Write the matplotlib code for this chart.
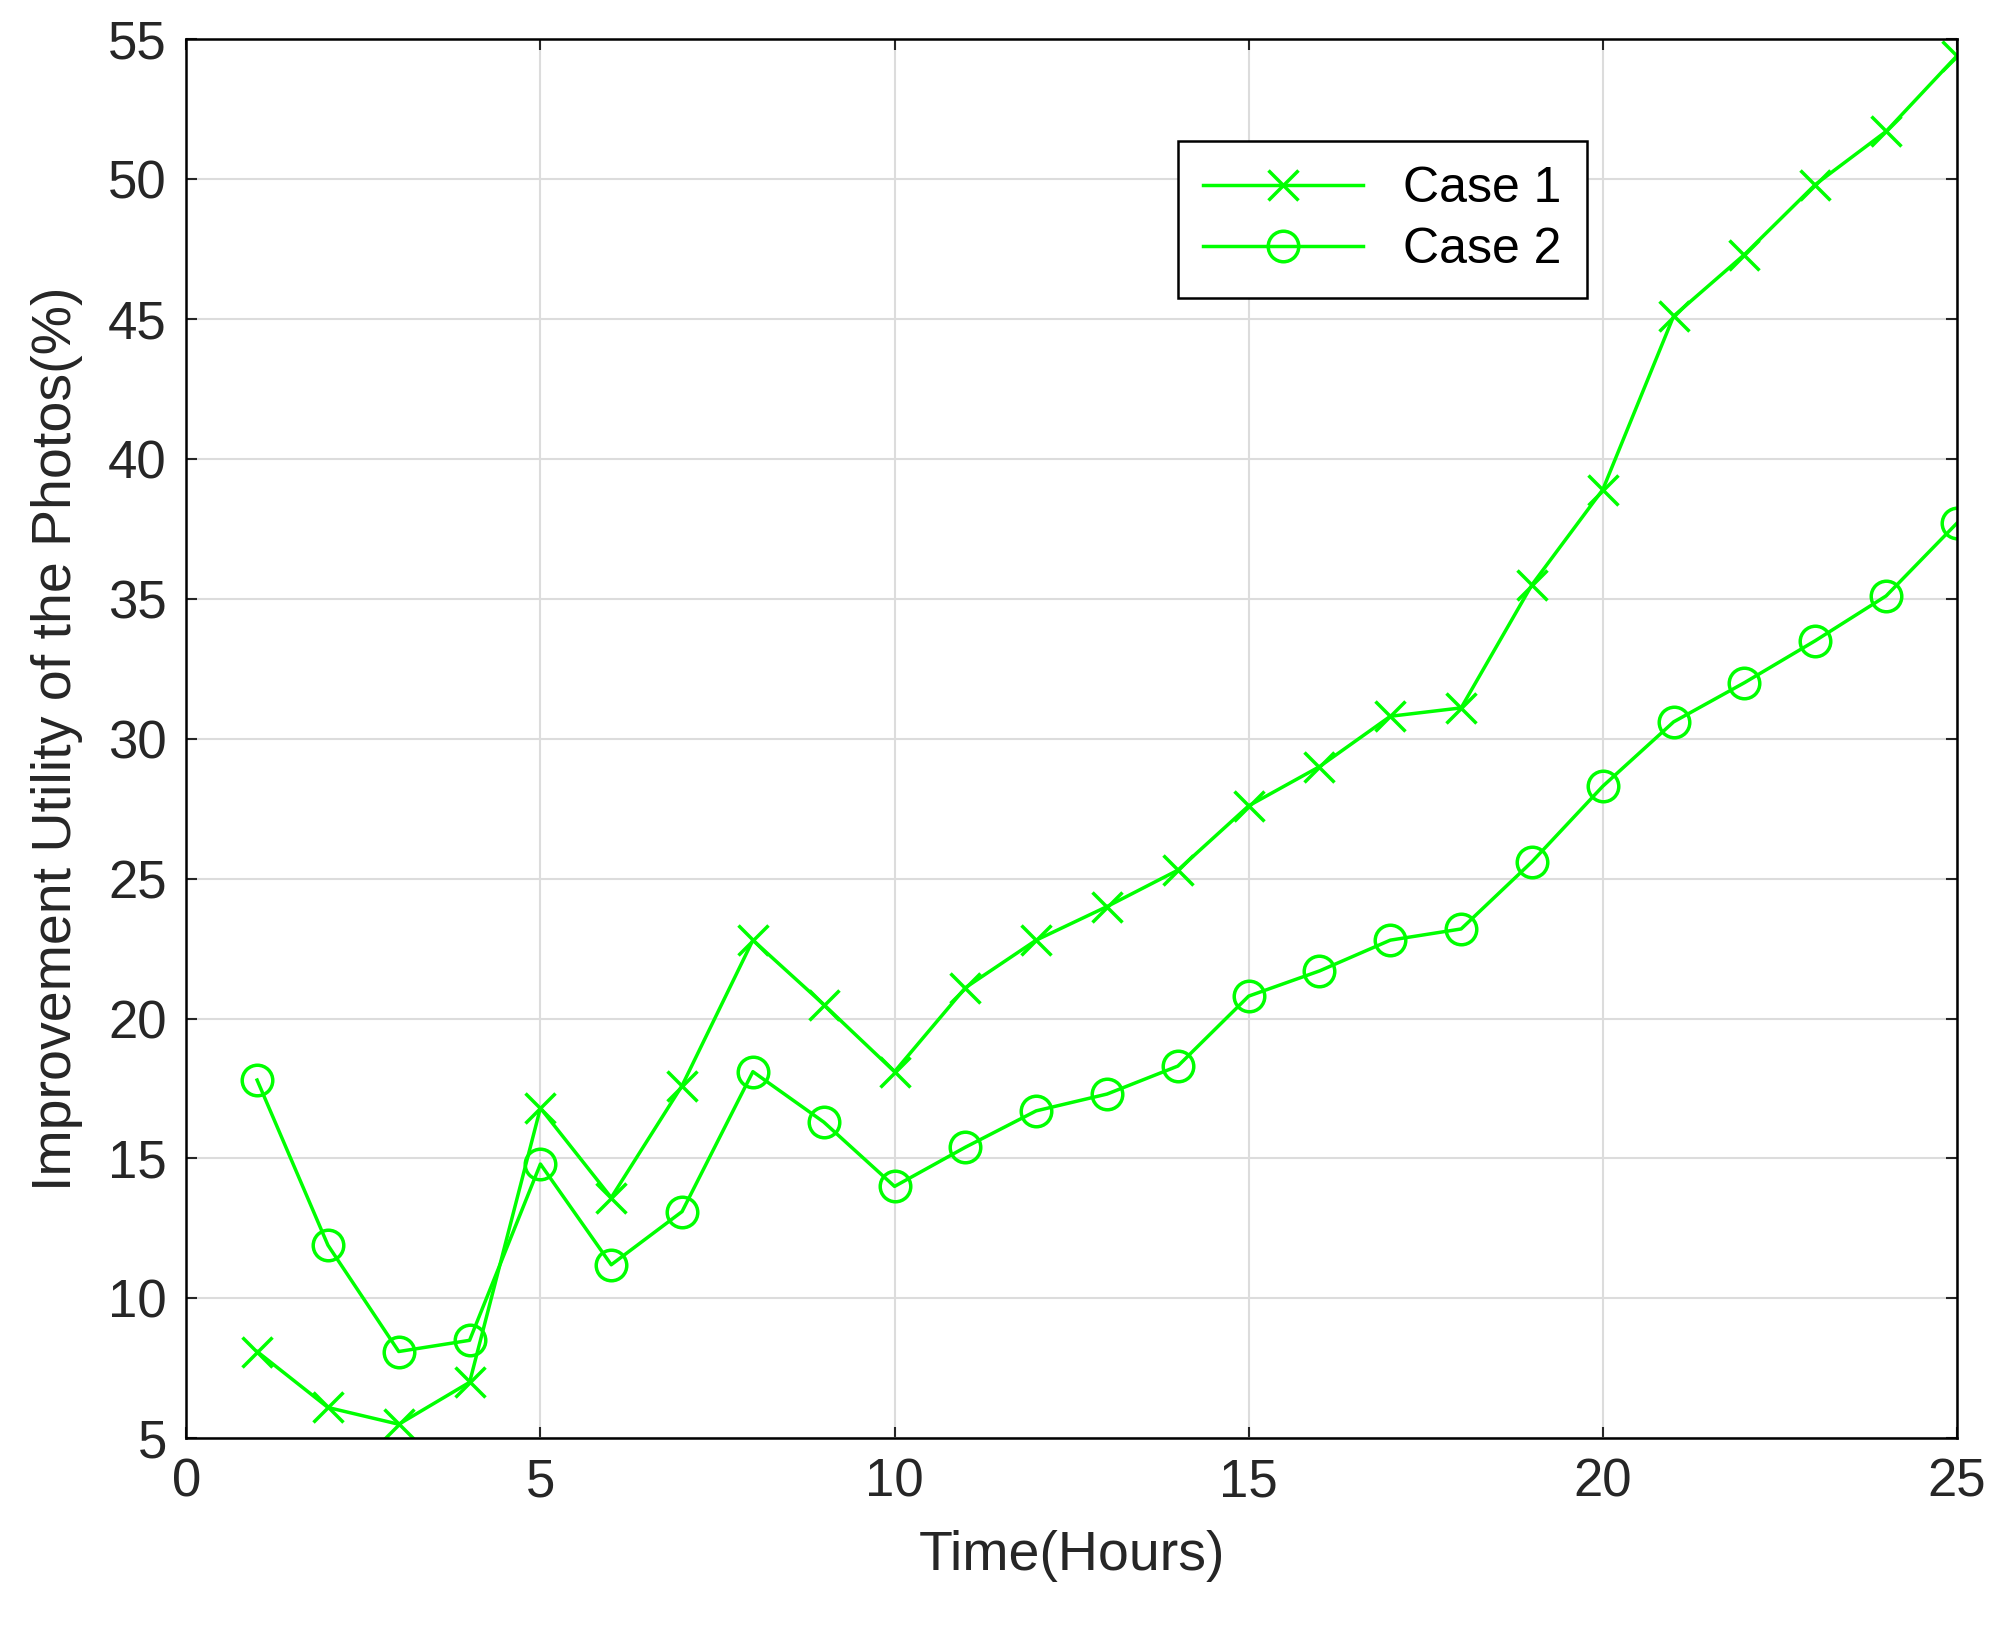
import numpy as np
import matplotlib.pyplot as plt

plt.rcParams['font.family'] = ['Liberation Sans', 'DejaVu Sans']

hours = list(range(1, 26))
case1 = [8.1, 6.1, 5.5, 7.0, 16.8, 13.6, 17.6, 22.8, 20.5, 18.1, 21.1, 22.8, 24.0,
         25.3, 27.6, 29.0, 30.8, 31.1, 35.5, 38.9, 45.1, 47.3, 49.8, 51.7, 54.4]
case2 = [17.8, 11.9, 8.1, 8.5, 14.8, 11.2, 13.1, 18.1, 16.3, 14.0, 15.4, 16.7, 17.3,
         18.3, 20.8, 21.7, 22.8, 23.2, 25.6, 28.3, 30.6, 32.0, 33.5, 35.1, 37.7]

fig = plt.figure(figsize=(20.03, 16.27), dpi=100)
ax = fig.add_axes([0.093, 0.116, 0.884, 0.86])

green = '#00ff00'
ax.plot(hours, case1, color=green, lw=2.5, marker='x', ms=22, mew=2.5, label='Case 1')
ax.plot(hours, case2, color=green, lw=2.5, marker='o', ms=22, mew=2.5,
        mfc='none', label='Case 2')

ax.set_xlim(0, 25)
ax.set_ylim(5, 55)
ax.set_xticks(np.arange(0, 26, 5))
ax.set_yticks(np.arange(5, 56, 5))
ax.grid(True, color='#dcdcdc', lw=1.5)
ax.tick_params(labelsize=38, colors='#262626', direction='in', length=8, width=1.5,
               top=True, right=True, pad=14)
for s in ax.spines.values():
    s.set_linewidth(1.8)
ax.set_xlabel('Time(Hours)', fontsize=40, color='#262626', labelpad=16)
ax.set_ylabel('Improvement Utility of the Photos(%)', fontsize=40, color='#262626',
              labelpad=18)

leg = ax.legend(loc='upper right', bbox_to_anchor=(0.805, 0.945), fontsize=36,
                fancybox=False, edgecolor='black', framealpha=1,
                handlelength=3.2, borderpad=0.5, labelspacing=0.3)
leg.get_frame().set_linewidth(1.8)

fig.savefig('out.png', dpi=100)
